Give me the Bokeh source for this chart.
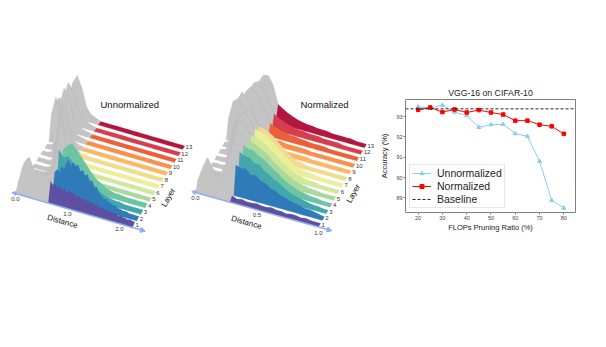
from bokeh.plotting import figure
from bokeh.layouts import row, column
from bokeh.models import Range1d, Arrow, NormalHead, Legend, LegendItem, FixedTicker
from bokeh.core.properties import value
from bokeh.embed import file_html
from bokeh.resources import INLINE

# ---- data: ridge heights per layer (index 0 = smallest distance)
U1 = [6,14,24,30,34,36,30,25,23,22,22,23,22,20,18,15,17,13,16,12,15,11,14,12,13,10,12,9,11,8,10,8,9,7,8,6,7,5,6,5,5,4,5,3,4,3,3,2,3,2,2]
U2 = [4,8,12,14,14,14,14,14,14,14,15,16,18,20,21,24,22,29,26,33,37,32,36,33,35,29,31,26,28,22,23,17,18,12,11,8,9,6,6,4,5,3,3,2,2,2,1,1,1,1,1]
U3 = [2,6,10,10,10,10,20,37,30,33,28,22,20,14,11,8,6,4,3,2,2,1,1,1,1,1]
U4 = [0,0,1,2,4,14,36,30,36,39,33,28,22,16,11,8,5,3,2,2,1,1,1,1,1,1]
U5 = [0,0,0,1,4,36,50,3,2,1,1,1,1,0,0,0,0,0,0,0,0,0,0,0,0,0]
U6 = [0,0,0,2,30,52,24,2,1,1,1,0,0,0,0,0,0,0,0,0,0,0,0,0,0,0]
U7 = [0,0,2,14,50,40,16,1,1,1,0,0,0,0,0,0,0,0,0,0,0,0,0,0,0,0]
U8 = [0,1,6,40,46,22,8,1,1,0,0,0,0,0,0,0,0,0,0,0,0,0,0,0,0,0]
U9 = [22,42,30,14,6,3,1,0,0,0,0,0,0,0,0,0,0,0,0,0,0,0,0,0,0,0]
U10 = [30,35,22,10,4,2,1,0,0,0,0,0,0,0,0,0,0,0,0,0,0,0,0,0,0,0]
U11 = [18,38,30,12,5,2,1,0,0,0,0,0,0,0,0,0,0,0,0,0,0,0,0,0,0,0]
U12 = [20,37,30,14,6,3,1,0,0,0,0,0,0,0,0,0,0,0,0,0,0,0,0,0,0,0]
U13 = [2,30,39,28,10,4,2,0,0,0,0,0,0,0,0,0,0,0,0,0,0,0,0,0,0,0]

N1 = [8,22,34,26,16,10,5,3,1,2,1,1,2,1,1,2,1,1,0,1,1,0,1,0,0,0]
N2 = [4,10,14,13,12,16,22,27,25,26,21,22,18,17,13,12,9,8,6,5,4,3,3,2,1,0]
N3 = [2,4,5,6,14,28,34,33,31,30,26,26,21,19,15,13,10,7,5,4,3,2,1,1,0,0]
N4 = [0,0,0,1,20,32,33,33,31,31,27,25,22,18,15,11,8,6,4,3,2,1,1,0,0,0]
N5 = [0,0,0,2,26,36,34,31,31,29,26,24,19,16,12,9,6,4,3,2,1,1,0,0,0,0]
N6 = [0,0,1,14,34,42,36,30,30,27,25,21,18,13,10,7,4,3,2,1,1,0,0,0,0,0]
N7 = [0,1,8,26,40,44,38,30,29,27,24,20,16,12,8,5,3,2,1,1,0,0,0,0,0,0]
N8 = [0,3,18,36,42,38,34,26,25,23,20,15,11,7,4,2,1,0,0,0,0,0,0,0,0,0]
N9 = [16,36,40,30,18,10,5,2,2,2,2,2,1,1,1,1,1,0,0,0,0,0,0,0,0,0]
N10 = [12,30,40,36,26,16,8,2,2,2,2,1,1,1,1,1,0,0,0,0,0,0,0,0,0,0]
N11 = [8,22,34,40,36,26,18,9,7,5,4,3,3,2,2,1,1,1,1,0,0,0,0,0,0,0]
N12 = [6,18,30,38,40,32,24,12,9,7,5,4,3,3,2,2,2,1,1,1,1,0,0,0,0,0]
N13 = [3,10,20,31,40,41,33,15,12,9,7,5,4,3,3,2,2,2,1,1,1,1,1,0,0,0]

U_LAYERS = [U1,U2,U3,U4,U5,U6,U7,U8,U9,U10,U11,U12,U13]
N_LAYERS = [N1,N2,N3,N4,N5,N6,N7,N8,N9,N10,N11,N12,N13]
LAYER_COLORS = ["#5e4fa2","#2f7ab8","#43a5ae","#6cc4a4","#a9d99d","#d1e79a","#ecee9b",
                "#efdc8f","#f8b868","#f68f4f","#ea6139","#d53e4f","#b2173f"]

ratio = [20,25,30,35,40,45,50,55,60,65,70,75,80]
unnorm = [93.48,93.42,93.56,93.22,93.05,92.47,92.6,92.62,92.16,92.03,90.8,88.88,88.5]
norm = [93.33,93.45,93.22,93.35,93.2,93.32,93.2,93.1,92.8,92.8,92.6,92.52,92.15]
baseline = 93.38

FONT = "Liberation Sans"
GRAY = "#c4c4c4"

left = figure(width=377, height=331, x_range=Range1d(0,377), y_range=Range1d(331,0),
              output_backend="svg", toolbar_location=None, min_border=0)
left.axis.visible = False
left.grid.visible = False
left.outline_line_color = None

def ridge(layers, x0, y0, sx, sy, kx, ky, dmax, thr, ticks, title, tx, ty, dist_xy, layer_xy):
    depth = 0.55
    for k in range(12, -1, -1):
        h = layers[k]
        n = len(h)
        step = dmax / (n - 1)
        cut = round(thr / step)
        xs = [x0 + sx * i * step + kx * k for i in range(n)]
        ys = [y0 + sy * i * step - ky * k for i in range(n)]
        tx_ = [x + depth * kx for x in xs]
        ty_ = [y - depth * ky - v for y, v in zip(ys, h)]
        for a, b, col in ((0, cut, GRAY), (cut, n - 1, LAYER_COLORS[k])):
            px = xs[a:b+1] + tx_[a:b+1][::-1]
            py = ys[a:b+1] + ty_[a:b+1][::-1]
            left.patch(px, py, fill_color=col, line_color=col, line_width=0.2)
        left.line(tx_[:cut+1], ty_[:cut+1], line_color="#b2b2b2", line_width=0.4)
        left.text([xs[-1] + 3], [ys[-1] - 2], text=[str(k + 1)], text_font=value(FONT),
                  text_font_size="6px", text_color="#333333", text_align="left", text_baseline="middle")
    ax_a, ax_b = -0.03 * dmax, 1.11 * dmax
    left.add_layout(Arrow(x_start=x0 + sx * ax_a, y_start=y0 + sy * ax_a,
                          x_end=x0 + sx * ax_b, y_end=y0 + sy * ax_b,
                          line_color="#8eaeea", line_width=1.4,
                          start=NormalHead(size=4, fill_color="#8eaeea", line_color="#8eaeea"),
                          end=NormalHead(size=5, fill_color="#8eaeea", line_color="#8eaeea")))
    for t in ticks:
        left.text([x0 + sx * t], [y0 + sy * t + 5.5], text=[f"{t:.1f}"], text_font=value(FONT),
                  text_font_size="6px", text_color="#333333", text_align="center", text_baseline="middle")
    left.text([tx], [ty], text=[title], text_font=value(FONT), text_font_size="9.5px",
              text_color="#111111", text_align="left", text_baseline="middle")
    left.text([dist_xy[0]], [dist_xy[1]], text=["Distance"], angle=[-16], angle_units="deg",
              text_font=value(FONT), text_font_size="8px", text_color="#111111",
              text_align="center", text_baseline="middle")
    left.text([layer_xy[0]], [layer_xy[1]], text=["Layer"], angle=[60], angle_units="deg",
              text_font=value(FONT), text_font_size="8px", text_color="#111111",
              text_align="center", text_baseline="middle")

ridge(U_LAYERS, 15, 193, 52, 15.1, 4.17, 6.5, 2.25, 0.64, [0.0, 1.0, 2.0], "Unnormalized", 100, 104, (62, 221), (168, 197))
ridge(N_LAYERS, 195, 192, 123, 34.5, 3.83, 6.6, 1.0, 0.285, [0.0, 0.5, 1.0], "Normalized", 300, 104, (246, 222), (353, 193))

right = figure(width=213, height=331, x_range=Range1d(14.8, 84.8), y_range=Range1d(88.28, 93.84),
               output_backend="svg", toolbar_location=None,
               min_border_left=28, min_border_right=15, min_border_top=99, min_border_bottom=119,
               title="VGG-16 on CIFAR-10")
right.title.text_font = FONT
right.title.text_font_size = "8.7px"
right.title.text_font_style = "normal"
right.title.align = "center"
right.title.offset = -4
right.title.text_color = "#222222"
right.title.standoff = 3
right.grid.visible = False
right.outline_line_color = "#808080"
right.outline_line_width = 1
for ax, lab in ((right.xaxis[0], "FLOPs Pruning Ratio (%)"), (right.yaxis[0], "Accuracy (%)")):
    ax.axis_label = lab
    ax.axis_label_text_font = FONT
    ax.axis_label_text_font_size = "7.5px"
    ax.axis_label_text_font_style = "normal"
    ax.axis_label_text_color = "#222222"
    ax.axis_label_standoff = 0
    ax.major_label_text_font = FONT
    ax.major_label_text_font_size = "5.5px"
    ax.major_label_text_color = "#444444"
    ax.major_label_standoff = 1
    ax.major_tick_in = 0
    ax.major_tick_out = 2
    ax.major_tick_line_color = "#808080"
    ax.minor_tick_line_color = None
    ax.axis_line_color = None
right.yaxis[0].axis_label_standoff = 4
right.xaxis[0].ticker = FixedTicker(ticks=[20,30,40,50,60,70,80])
right.yaxis[0].ticker = FixedTicker(ticks=[89,90,91,92,93])

l1 = right.line(ratio, unnorm, line_color="#87cfeb", line_width=1)
m1 = right.scatter(ratio, unnorm, marker="triangle", size=4, fill_color="#87cfeb", line_color="#87cfeb")
l2 = right.line(ratio, norm, line_color="#ff0000", line_width=1)
m2 = right.scatter(ratio, norm, marker="square", size=3.5, fill_color="#ff0000", line_color="#ff0000")
l3 = right.line([14.8, 84.8], [baseline, baseline], line_color="#111111", line_width=0.9, line_dash="3 2")

legend = Legend(items=[LegendItem(label="Unnormalized", renderers=[l1, m1]),
                       LegendItem(label="Normalized", renderers=[l2, m2]),
                       LegendItem(label="Baseline", renderers=[l3])],
                location="bottom_left", label_text_font=FONT, label_text_font_size="10.5px",
                label_text_color="#222222", glyph_width=19, glyph_height=10, label_height=10,
                spacing=1, padding=2, margin=4, border_line_color="#d0d0d0", border_line_width=0.7,
                label_standoff=6)
right.add_layout(legend)

page = row(column(left), column(right), spacing=0)
open("out.html", "w").write(file_html(page, INLINE))
